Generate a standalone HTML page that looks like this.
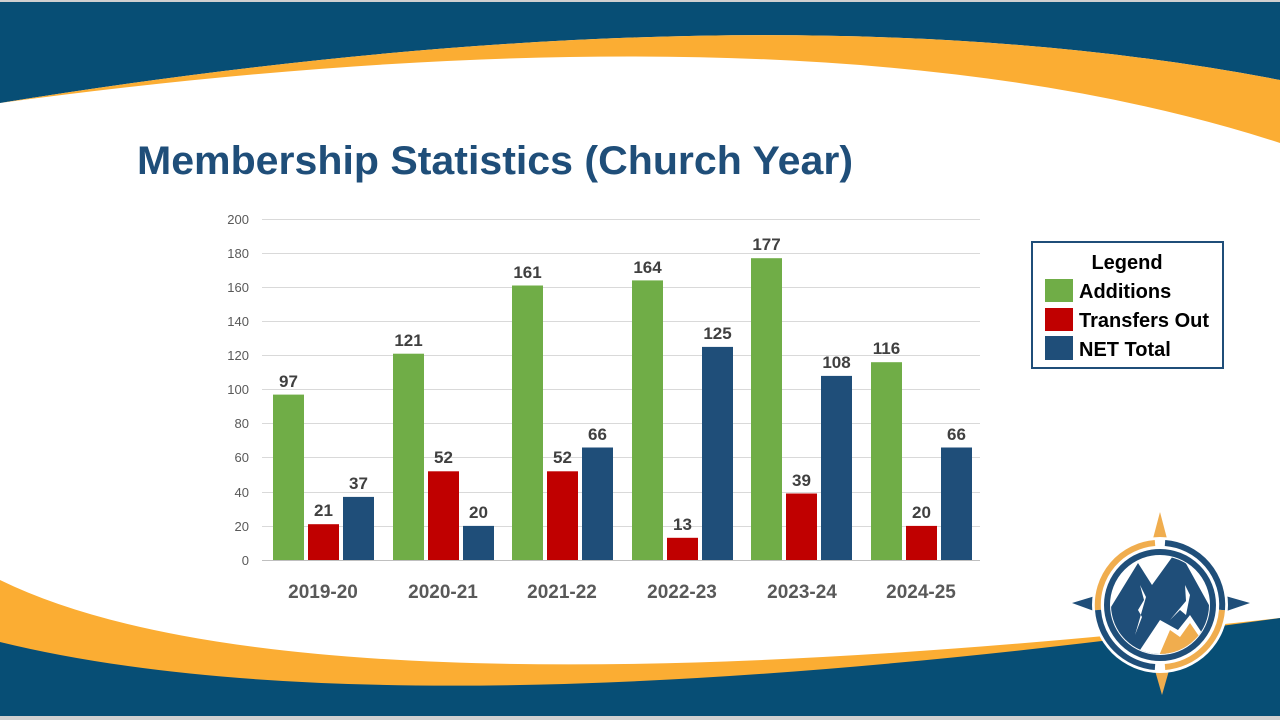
<!DOCTYPE html>
<html><head><meta charset="utf-8"><style>
html,body{margin:0;padding:0;background:#fff;width:1280px;height:720px;overflow:hidden}
svg{display:block;font-family:"Liberation Sans",sans-serif}
</style></head><body>
<svg width="1280" height="720" viewBox="0 0 1280 720" xmlns="http://www.w3.org/2000/svg">
<rect width="1280" height="720" fill="#fff"/>
<!-- top banner -->
<path d="M0 0 H1280 V80 Q760 -20 0 103 Z" fill="#074e75"/>
<path d="M0 103 Q760 -20 1280 80 V143 Q820 -7 0 103 Z" fill="#fbad33"/>
<!-- bottom banner -->
<path d="M0 580 Q300 727 1280 618 V720 H0 Z" fill="#fbad33"/>
<path d="M0 642 Q400 740 1280 618 V720 H0 Z" fill="#074e75"/>
<rect x="0" y="716" width="1280" height="4" fill="#d0d0d0"/>
<rect x="0" y="0" width="1280" height="2" fill="#d0d0d0"/>
<!-- title -->
<text x="137" y="174" font-size="40" font-weight="bold" fill="#1f4e79" textLength="716" lengthAdjust="spacingAndGlyphs">Membership Statistics (Church Year)</text>
<!-- gridlines & y ticks -->
<g stroke="#d9d9d9" stroke-width="1">
<line x1="262" x2="980" y1="219.5" y2="219.5"/><line x1="262" x2="980" y1="253.5" y2="253.5"/>
<line x1="262" x2="980" y1="287.5" y2="287.5"/><line x1="262" x2="980" y1="321.5" y2="321.5"/>
<line x1="262" x2="980" y1="355.5" y2="355.5"/><line x1="262" x2="980" y1="389.5" y2="389.5"/>
<line x1="262" x2="980" y1="423.5" y2="423.5"/><line x1="262" x2="980" y1="457.5" y2="457.5"/>
<line x1="262" x2="980" y1="492.5" y2="492.5"/><line x1="262" x2="980" y1="526.5" y2="526.5"/>
</g>
<line x1="262" x2="980" y1="560.5" y2="560.5" stroke="#bfbfbf"/>
<g font-size="13" fill="#595959" text-anchor="end">
<text x="249" y="224">200</text><text x="249" y="258">180</text><text x="249" y="292">160</text>
<text x="249" y="326">140</text><text x="249" y="360">120</text><text x="249" y="394">100</text>
<text x="249" y="428">80</text><text x="249" y="462">60</text><text x="249" y="497">40</text>
<text x="249" y="531">20</text><text x="249" y="565">0</text>
</g>
<g font-size="17" font-weight="bold" fill="#404040" text-anchor="middle">
<rect x="273" y="394.6" width="31" height="165.4" fill="#70ad47"/><text x="288.5" y="387">97</text>
<rect x="308" y="524.2" width="31" height="35.8" fill="#c00000"/><text x="323.5" y="516">21</text>
<rect x="343" y="496.9" width="31" height="63.1" fill="#1f4e79"/><text x="358.5" y="489">37</text>
<rect x="393" y="353.7" width="31" height="206.3" fill="#70ad47"/><text x="408.5" y="346">121</text>
<rect x="428" y="471.3" width="31" height="88.7" fill="#c00000"/><text x="443.5" y="463">52</text>
<rect x="463" y="525.9" width="31" height="34.1" fill="#1f4e79"/><text x="478.5" y="518">20</text>
<rect x="512" y="285.5" width="31" height="274.5" fill="#70ad47"/><text x="527.5" y="278">161</text>
<rect x="547" y="471.3" width="31" height="88.7" fill="#c00000"/><text x="562.5" y="463">52</text>
<rect x="582" y="447.5" width="31" height="112.5" fill="#1f4e79"/><text x="597.5" y="440">66</text>
<rect x="632" y="280.4" width="31" height="279.6" fill="#70ad47"/><text x="647.5" y="273">164</text>
<rect x="667" y="537.8" width="31" height="22.2" fill="#c00000"/><text x="682.5" y="530">13</text>
<rect x="702" y="346.9" width="31" height="213.1" fill="#1f4e79"/><text x="717.5" y="339">125</text>
<rect x="751" y="258.2" width="31" height="301.8" fill="#70ad47"/><text x="766.5" y="250">177</text>
<rect x="786" y="493.5" width="31" height="66.5" fill="#c00000"/><text x="801.5" y="486">39</text>
<rect x="821" y="375.9" width="31" height="184.1" fill="#1f4e79"/><text x="836.5" y="368">108</text>
<rect x="871" y="362.2" width="31" height="197.8" fill="#70ad47"/><text x="886.5" y="354">116</text>
<rect x="906" y="525.9" width="31" height="34.1" fill="#c00000"/><text x="921.5" y="518">20</text>
<rect x="941" y="447.5" width="31" height="112.5" fill="#1f4e79"/><text x="956.5" y="440">66</text>
</g>
<g font-size="19" font-weight="bold" fill="#595959" text-anchor="middle">
<text x="323" y="598">2019-20</text><text x="443" y="598">2020-21</text><text x="562" y="598">2021-22</text>
<text x="682" y="598">2022-23</text><text x="802" y="598">2023-24</text><text x="921" y="598">2024-25</text>
</g>
<!-- legend -->
<rect x="1032" y="242" width="191" height="126" fill="#fff" stroke="#1f4e79" stroke-width="2"/>
<text x="1127" y="269" font-size="20" font-weight="bold" text-anchor="middle" fill="#000">Legend</text>
<rect x="1045" y="279" width="28" height="23" fill="#70ad47"/>
<rect x="1045" y="308" width="28" height="23" fill="#c00000"/>
<rect x="1045" y="336" width="28" height="24" fill="#1f4e79"/>
<g font-size="20" font-weight="bold" fill="#000">
<text x="1079" y="298">Additions</text>
<text x="1079" y="327">Transfers Out</text>
<text x="1079" y="356">NET Total</text>
</g>
<!-- logo -->
<g transform="translate(1160,605)">
<polygon points="0,-93 -10,-55 10,-55" fill="#f0ad4e"/>
<polygon points="2,90 -8,55 12,55" fill="#f0ad4e"/>
<polygon points="-88,-2 -55,-12 -55,10" fill="#1f4e79"/>
<polygon points="90,-2 55,-12 55,10" fill="#1f4e79"/>
<circle r="68" fill="#fff"/>
<path d="M-62 5 A62 62 0 0 1 -5 -62" fill="none" stroke="#f0ad4e" stroke-width="6"/>
<path d="M5 -62 A62 62 0 0 1 62 5" fill="none" stroke="#1f4e79" stroke-width="6"/>
<path d="M62 5 A62 62 0 0 1 5 62" fill="none" stroke="#f0ad4e" stroke-width="6"/>
<path d="M-5 62 A62 62 0 0 1 -62 5" fill="none" stroke="#1f4e79" stroke-width="6"/>
<circle r="53" fill="none" stroke="#1f4e79" stroke-width="6"/>
<clipPath id="lc"><circle r="49"/></clipPath>
<g clip-path="url(#lc)">
<polygon points="-60,20 -22,-42 -8,-20 18,-56 60,20 20,60 -40,60" fill="#1f4e79"/>
<polygon points="-30,60 0,15 18,25 30,10 50,40 40,60" fill="#fff"/>
<polygon points="-5,60 10,25 20,32 30,18 45,40 40,60" fill="#f0ad4e"/>
<polygon points="-20,-20 -16,-5 -22,5 -18,12 -25,30 -14,-8" fill="#fff"/>
<polygon points="25,-20 30,-10 26,10 20,5 10,15 26,-4" fill="#fff"/>
</g>
</g>
</svg>
</body></html>
